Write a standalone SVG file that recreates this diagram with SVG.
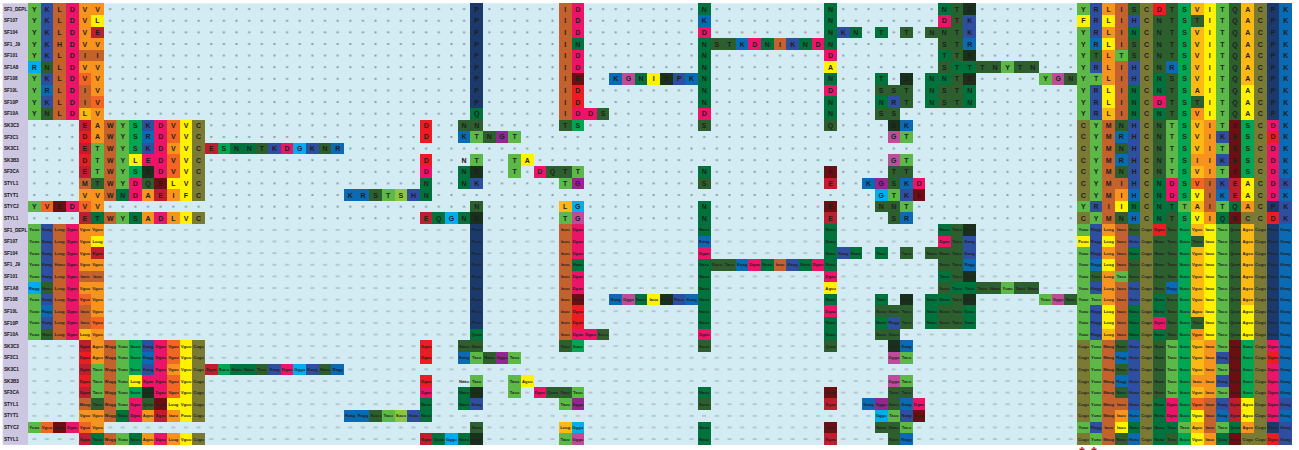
<svg xmlns="http://www.w3.org/2000/svg" width="1299" height="450" viewBox="0 0 1299 450">
<style>
.t{font-family:"Liberation Sans",Arial,sans-serif;font-weight:bold;font-size:7px;fill:#1e1e1e;text-anchor:middle}
.c{font-family:"Liberation Sans",Arial,sans-serif;font-weight:bold;font-size:4.2px;fill:#222;text-anchor:middle}
.lb{font-family:"Liberation Sans",Arial,sans-serif;font-weight:bold;font-size:4.6px;fill:#111}
.cl rect{width:1px;height:1px}
.g1{fill:#5cb947}.g2{fill:#00a651}.g3{fill:#00733c}.g4{fill:#2d5e2e}.g5{fill:#18301c}.g6{fill:#8dc63f}
.b1{fill:#2e4ea0}.b2{fill:#0a6ab4}.b3{fill:#00aeef}.b4{fill:#1b3a6b}
.o1{fill:#f7941d}.o2{fill:#f26522}.o3{fill:#c4622d}.y1{fill:#fff200}.y2{fill:#fdb913}
.r1{fill:#ed1c24}.r2{fill:#be1e2d}.r3{fill:#6d0f12}.pk{fill:#ec1468}.pu{fill:#92278f}.mg{fill:#c04b9a}.ol{fill:#7a7a34}
</style>
<defs>
<pattern id="dots" patternUnits="userSpaceOnUse" x="28" y="3.3" width="12.64" height="11.62"><rect x="5.3" y="4.8" width="2" height="2" fill="#8a9ca4"/></pattern>
<pattern id="dash" patternUnits="userSpaceOnUse" x="28" y="3.3" width="12.64" height="11.62"><rect x="4.3" y="5.3" width="4" height="1.1" fill="#9aaab2"/></pattern>
</defs>
<g id="background">
<rect x="2.7" y="3.3" width="25.3" height="441.6" fill="#ccc6e0"/>
<rect x="28" y="3.3" width="1264" height="441.6" fill="#d3ebf2"/>
<rect x="28" y="3.3" width="1264" height="220.8" fill="url(#dots)"/>
<rect x="28" y="224.1" width="1264" height="220.8" fill="url(#dash)"/>
</g>
<g id="cells" class="cl" transform="translate(28 3.3) scale(12.64 11.62)" shape-rendering="crispEdges">
<g class="g1"><rect x="0" y="0" style="height:5px"/><rect x="0" y="6" style="height:4px"/><rect x="0" y="17"/><rect x="7" y="10" style="height:6px"/><rect x="7" y="18"/><rect x="5" y="12" style="height:3px"/><rect x="35" y="11"/><rect x="38" y="11"/><rect x="35" y="13"/><rect x="38" y="13" style="height:2px"/><rect x="43" y="14"/><rect x="42" y="15"/><rect x="28" y="16"/><rect x="69" y="11"/><rect x="69" y="13"/><rect x="68" y="16"/><rect x="69" y="17"/><rect x="42" y="18"/><rect x="77" y="5"/><rect x="80" y="6"/><rect x="83" y="0"/><rect x="83" y="2" style="height:8px"/><rect x="83" y="17"/><rect x="84" y="6"/><rect x="84" y="10" style="height:7px"/><rect x="84" y="18"/><rect x="86" y="4"/><rect x="90" y="10" style="height:5px"/><rect x="91" y="17"/><rect x="94" y="0" style="height:11px"/><rect x="94" y="12"/><rect x="94" y="14"/><rect x="94" y="17"/></g>
<g class="g2"><rect x="8" y="10" style="height:3px"/><rect x="8" y="14"/><rect x="43" y="10"/><rect x="15" y="12"/><rect x="91" y="0" style="height:17px"/><rect x="91" y="18"/><rect x="96" y="10" style="height:5px"/></g>
<g class="g3"><rect x="53" y="0"/><rect x="53" y="3" style="height:6px"/><rect x="53" y="14"/><rect x="53" y="17" style="height:2px"/><rect x="63" y="0" style="height:4px"/><rect x="63" y="6"/><rect x="63" y="8" style="height:2px"/><rect x="43" y="3"/><rect x="65" y="2"/><rect x="67" y="2"/><rect x="58" y="3"/><rect x="61" y="3"/><rect x="48" y="6"/><rect x="72" y="0"/><rect x="72" y="4"/><rect x="73" y="5"/><rect x="74" y="5"/><rect x="67" y="6"/><rect x="71" y="6" style="height:3px"/><rect x="72" y="6"/><rect x="74" y="7" style="height:2px"/><rect x="67" y="8"/><rect x="34" y="14" style="height:2px"/><rect x="31" y="15" style="height:2px"/><rect x="7" y="16"/><rect x="32" y="18"/><rect x="34" y="18"/><rect x="16" y="12"/><rect x="17" y="12"/><rect x="5" y="18"/><rect x="8" y="18"/><rect x="35" y="9"/><rect x="87" y="2"/><rect x="87" y="7" style="height:3px"/><rect x="87" y="17"/><rect x="89" y="6" style="height:2px"/><rect x="89" y="9"/><rect x="89" y="15" style="height:4px"/><rect x="90" y="17"/><rect x="94" y="18"/><rect x="95" y="17"/></g>
<g class="g4"><rect x="1" y="5"/><rect x="1" y="9"/><rect x="45" y="9"/><rect x="54" y="3"/><rect x="55" y="3"/><rect x="73" y="0" style="height:5px"/><rect x="73" y="6" style="height:3px"/><rect x="71" y="2"/><rect x="72" y="2" style="height:2px"/><rect x="69" y="2"/><rect x="72" y="5"/><rect x="75" y="5"/><rect x="76" y="5"/><rect x="78" y="5"/><rect x="79" y="5"/><rect x="82" y="6"/><rect x="67" y="7"/><rect x="68" y="7"/><rect x="69" y="7" style="height:2px"/><rect x="67" y="9"/><rect x="68" y="9"/><rect x="72" y="7" style="height:2px"/><rect x="34" y="10"/><rect x="35" y="10"/><rect x="42" y="10"/><rect x="53" y="10"/><rect x="36" y="11"/><rect x="41" y="14"/><rect x="42" y="14"/><rect x="68" y="14" style="height:2px"/><rect x="69" y="14"/><rect x="5" y="15"/><rect x="9" y="15"/><rect x="53" y="15"/><rect x="27" y="16"/><rect x="35" y="17"/><rect x="67" y="17"/><rect x="68" y="17"/><rect x="68" y="18"/><rect x="18" y="12"/><rect x="23" y="12"/><rect x="63" y="10"/><rect x="84" y="4"/><rect x="86" y="10"/><rect x="86" y="12"/><rect x="86" y="14"/><rect x="86" y="18"/><rect x="87" y="0"/><rect x="87" y="3" style="height:2px"/><rect x="89" y="1" style="height:5px"/><rect x="89" y="10" style="height:5px"/><rect x="90" y="0" style="height:5px"/><rect x="90" y="6" style="height:4px"/><rect x="90" y="18"/><rect x="92" y="1"/><rect x="92" y="8"/><rect x="95" y="0" style="height:10px"/></g>
<g class="g5"><rect x="74" y="0"/><rect x="74" y="4"/><rect x="50" y="6"/><rect x="69" y="6"/><rect x="74" y="6"/><rect x="68" y="10"/><rect x="9" y="14"/><rect x="35" y="14"/><rect x="35" y="18"/></g>
<g class="g6"><rect x="29" y="16"/></g>
<g class="b1"><rect x="1" y="0" style="height:5px"/><rect x="1" y="6"/><rect x="1" y="8"/><rect x="2" y="3"/><rect x="60" y="3"/><rect x="51" y="6"/><rect x="64" y="2"/><rect x="74" y="1" style="height:2px"/><rect x="68" y="8"/><rect x="9" y="10"/><rect x="9" y="12"/><rect x="35" y="15"/><rect x="19" y="12"/><rect x="22" y="12"/><rect x="30" y="16"/><rect x="69" y="16"/><rect x="84" y="0" style="height:3px"/><rect x="84" y="5"/><rect x="84" y="7" style="height:3px"/><rect x="84" y="17"/><rect x="87" y="1"/><rect x="87" y="5" style="height:2px"/><rect x="87" y="10" style="height:6px"/><rect x="94" y="11"/><rect x="94" y="13"/><rect x="94" y="15"/><rect x="99" y="15"/><rect x="99" y="17" style="height:2px"/></g>
<g class="b2"><rect x="1" y="7"/><rect x="53" y="1"/><rect x="56" y="3"/><rect x="74" y="3"/><rect x="46" y="6"/><rect x="52" y="6"/><rect x="69" y="10"/><rect x="9" y="11"/><rect x="34" y="11"/><rect x="24" y="12"/><rect x="66" y="15"/><rect x="69" y="15"/><rect x="25" y="16"/><rect x="26" y="16"/><rect x="69" y="18"/><rect x="84" y="3"/><rect x="86" y="11"/><rect x="86" y="13"/><rect x="87" y="16"/><rect x="87" y="18"/><rect x="90" y="5"/><rect x="94" y="16"/><rect x="99" y="0" style="height:15px"/><rect x="99" y="16"/></g>
<g class="b3"><rect x="0" y="5"/><rect x="21" y="12"/><rect x="43" y="17"/><rect x="33" y="18"/><rect x="67" y="16"/></g>
<g class="b4"><rect x="35" y="0" style="height:9px"/><rect x="98" y="0" style="height:10px"/><rect x="98" y="17"/></g>
<g class="o1"><rect x="4" y="0" style="height:4px"/><rect x="4" y="5"/><rect x="5" y="0"/><rect x="5" y="3"/><rect x="5" y="5" style="height:3px"/><rect x="5" y="9" style="height:3px"/><rect x="5" y="16" style="height:2px"/><rect x="11" y="12"/><rect x="9" y="16"/><rect x="11" y="16"/><rect x="4" y="16"/><rect x="9" y="18"/><rect x="11" y="18"/><rect x="85" y="0"/><rect x="85" y="2"/><rect x="85" y="4" style="height:3px"/><rect x="86" y="16"/><rect x="92" y="9"/><rect x="92" y="13"/><rect x="93" y="10" style="height:5px"/><rect x="93" y="18"/><rect x="96" y="17"/></g>
<g class="o2"><rect x="4" y="6"/><rect x="5" y="8"/><rect x="11" y="10" style="height:2px"/><rect x="11" y="13" style="height:2px"/><rect x="1" y="17"/><rect x="4" y="17"/><rect x="92" y="15"/></g>
<g class="o3"><rect x="2" y="0" style="height:10px"/><rect x="4" y="4"/><rect x="5" y="4"/><rect x="4" y="7" style="height:2px"/><rect x="42" y="0" style="height:10px"/><rect x="59" y="3"/><rect x="6" y="10" style="height:7px"/><rect x="6" y="18"/><rect x="4" y="15"/><rect x="85" y="10" style="height:9px"/><rect x="86" y="0" style="height:4px"/><rect x="86" y="5" style="height:5px"/><rect x="86" y="15"/><rect x="93" y="15" style="height:3px"/></g>
<g class="y1"><rect x="5" y="1"/><rect x="49" y="6"/><rect x="63" y="5"/><rect x="8" y="13"/><rect x="39" y="13"/><rect x="11" y="15"/><rect x="12" y="10" style="height:7px"/><rect x="12" y="18"/><rect x="83" y="1"/><rect x="85" y="1"/><rect x="85" y="3"/><rect x="85" y="7" style="height:2px"/><rect x="86" y="17"/><rect x="92" y="16"/><rect x="92" y="18"/><rect x="93" y="0" style="height:10px"/><rect x="96" y="7" style="height:3px"/><rect x="96" y="15" style="height:2px"/></g>
<g class="y2"><rect x="4" y="9"/><rect x="42" y="17"/><rect x="85" y="9"/><rect x="92" y="0"/><rect x="92" y="2" style="height:6px"/><rect x="92" y="10" style="height:3px"/><rect x="92" y="14"/><rect x="92" y="17"/><rect x="96" y="0" style="height:7px"/></g>
<g class="r1"><rect x="43" y="7" style="height:2px"/><rect x="4" y="11"/><rect x="4" y="13"/><rect x="31" y="10" style="height:2px"/><rect x="31" y="13"/><rect x="89" y="0"/><rect x="98" y="11"/><rect x="98" y="18"/></g>
<g class="r2"><rect x="5" y="2"/><rect x="4" y="10"/><rect x="4" y="12"/><rect x="4" y="14"/><rect x="4" y="18"/><rect x="14" y="12"/><rect x="10" y="16"/><rect x="63" y="15"/><rect x="31" y="18"/><rect x="63" y="18"/><rect x="95" y="15" style="height:2px"/></g>
<g class="r3"><rect x="43" y="6"/><rect x="2" y="17"/><rect x="10" y="15"/><rect x="63" y="14"/><rect x="63" y="17"/><rect x="70" y="16"/><rect x="95" y="10" style="height:5px"/><rect x="95" y="18"/></g>
<g class="pk"><rect x="3" y="0" style="height:10px"/><rect x="3" y="17"/><rect x="43" y="0" style="height:3px"/><rect x="43" y="4" style="height:2px"/><rect x="43" y="9"/><rect x="44" y="9"/><rect x="53" y="2"/><rect x="53" y="9"/><rect x="57" y="3"/><rect x="62" y="3"/><rect x="63" y="4"/><rect x="63" y="7"/><rect x="72" y="1"/><rect x="10" y="10" style="height:5px"/><rect x="10" y="18"/><rect x="9" y="13"/><rect x="8" y="15" style="height:2px"/><rect x="31" y="14"/><rect x="40" y="14"/><rect x="20" y="12"/><rect x="70" y="15"/><rect x="89" y="8"/><rect x="90" y="15" style="height:2px"/><rect x="98" y="10"/><rect x="98" y="12" style="height:5px"/></g>
<g class="pu"><rect x="37" y="11"/><rect x="43" y="15"/><rect x="67" y="15"/></g>
<g class="mg"><rect x="47" y="6"/><rect x="81" y="6"/><rect x="68" y="11"/><rect x="68" y="13"/><rect x="43" y="18"/></g>
<g class="ol"><rect x="13" y="10" style="height:7px"/><rect x="13" y="18"/><rect x="83" y="10" style="height:7px"/><rect x="83" y="18"/><rect x="88" y="0" style="height:19px"/><rect x="96" y="18"/><rect x="97" y="0" style="height:19px"/></g>
</g>
<use id="cells-lower" href="#cells" y="220.78"/>
<g id="labels" class="lb">
<text x="4" y="10.8">SF1_DEPL</text><text x="4" y="22.4">SF107</text><text x="4" y="34">SF104</text><text x="4" y="45.6">SF1_J9</text><text x="4" y="57.2">SF101</text><text x="4" y="68.8">SF1A8</text><text x="4" y="80.4">SF108</text><text x="4" y="92">SF10L</text><text x="4" y="103.7">SF10P</text><text x="4" y="115.3">SF10A</text><text x="4" y="126.9">SK3C3</text><text x="4" y="138.5">SF3C1</text><text x="4" y="150.1">SK3C1</text><text x="4" y="161.8">SK3B3</text><text x="4" y="173.4">SF3CA</text><text x="4" y="185">STYL1</text><text x="4" y="196.6">STYT1</text><text x="4" y="208.2">STYC2</text><text x="4" y="219.8">STYL1</text>
<text x="4" y="231.6">SF1_DEPL</text><text x="4" y="243.2">SF107</text><text x="4" y="254.8">SF104</text><text x="4" y="266.4">SF1_J9</text><text x="4" y="278">SF101</text><text x="4" y="289.6">SF1A8</text><text x="4" y="301.2">SF108</text><text x="4" y="312.8">SF10L</text><text x="4" y="324.5">SF10P</text><text x="4" y="336.1">SF10A</text><text x="4" y="347.7">SK3C3</text><text x="4" y="359.3">SF3C1</text><text x="4" y="370.9">SK3C1</text><text x="4" y="382.6">SK3B3</text><text x="4" y="394.2">SF3CA</text><text x="4" y="405.8">STYL1</text><text x="4" y="417.4">STYT1</text><text x="4" y="429">STYC2</text><text x="4" y="440.6">STYL1</text>
</g>
<g id="letters" class="t">
<text x="34.3 47 59.6 72.2 84.9 97.5 476.7 565.2 577.8 704.2 830.6 944.4 957 969.7 1083.4 1096.1 1108.7 1121.4 1134 1146.6 1159.3 1171.9 1184.6 1197.2 1209.8 1222.5 1235.1 1247.8 1260.4 1273 1285.7" y="11.6">YKLDVVPIDNNNTSYRLISCDTSVITQACPK</text>
<text x="34.3 47 59.6 72.2 84.9 97.5 476.7 565.2 577.8 704.2 830.6 944.4 957 969.7 1083.4 1096.1 1108.7 1121.4 1134 1146.6 1159.3 1171.9 1184.6 1197.2 1209.8 1222.5 1235.1 1247.8 1260.4 1273 1285.7" y="23.2">YKLDVLPIDKNDTKFRLIHCNTSTITQACPK</text>
<text x="34.3 47 59.6 72.2 84.9 97.5 476.7 565.2 577.8 704.2 830.6 843.3 855.9 881.2 906.5 931.8 944.4 957 969.7 1083.4 1096.1 1108.7 1121.4 1134 1146.6 1159.3 1171.9 1184.6 1197.2 1209.8 1222.5 1235.1 1247.8 1260.4 1273 1285.7" y="34.9">YKLDVEPIDDNKNTTNNTKYRLINCNTSVITQACPK</text>
<text x="34.3 47 59.6 72.2 84.9 97.5 476.7 565.2 577.8 704.2 716.9 729.5 742.2 754.8 767.4 780.1 792.7 805.4 818 830.6 944.4 957 969.7 1083.4 1096.1 1108.7 1121.4 1134 1146.6 1159.3 1171.9 1184.6 1197.2 1209.8 1222.5 1235.1 1247.8 1260.4 1273 1285.7" y="46.5">YKHDVVPINNSTKDNIKNDNSTRYRLISCNTSVITQACPK</text>
<text x="34.3 47 59.6 72.2 84.9 97.5 476.7 565.2 577.8 704.2 830.6 944.4 957 969.7 1083.4 1096.1 1108.7 1121.4 1134 1146.6 1159.3 1171.9 1184.6 1197.2 1209.8 1222.5 1235.1 1247.8 1260.4 1273 1285.7" y="58.1">YKLDIIPIDNDTTSYTLTSCNTSVITQACPK</text>
<text x="34.3 47 59.6 72.2 84.9 97.5 476.7 565.2 577.8 704.2 830.6 944.4 957 969.7 982.3 995 1007.6 1020.2 1032.9 1083.4 1096.1 1108.7 1121.4 1134 1146.6 1159.3 1171.9 1184.6 1197.2 1209.8 1222.5 1235.1 1247.8 1260.4 1273 1285.7" y="69.7">RNLDVVPIDNASTTTNYTNYRLIHCNRSVITQACPK</text>
<text x="34.3 47 59.6 72.2 84.9 97.5 476.7 565.2 577.8 615.8 628.4 641 653.7 666.3 679 691.6 704.2 830.6 881.2 906.5 931.8 944.4 957 969.7 1045.5 1058.2 1070.8 1083.4 1096.1 1108.7 1121.4 1134 1146.6 1159.3 1171.9 1184.6 1197.2 1209.8 1222.5 1235.1 1247.8 1260.4 1273 1285.7" y="81.3">YKLDVVPIEKGNISPKNNTSNNTSYGNYTLIHCNSSVITQACPK</text>
<text x="34.3 47 59.6 72.2 84.9 97.5 476.7 565.2 577.8 704.2 830.6 881.2 893.8 906.5 931.8 944.4 957 969.7 1083.4 1096.1 1108.7 1121.4 1134 1146.6 1159.3 1171.9 1184.6 1197.2 1209.8 1222.5 1235.1 1247.8 1260.4 1273 1285.7" y="93">YRLDIVPIDNDSSTNSTNYRLINCNTSAITQACPK</text>
<text x="34.3 47 59.6 72.2 84.9 97.5 476.7 565.2 577.8 704.2 830.6 881.2 893.8 906.5 931.8 944.4 957 969.7 1083.4 1096.1 1108.7 1121.4 1134 1146.6 1159.3 1171.9 1184.6 1197.2 1209.8 1222.5 1235.1 1247.8 1260.4 1273 1285.7" y="104.6">YKLDIVPIDNNNRTNSTNYRLINCDTSTITQACPK</text>
<text x="34.3 47 59.6 72.2 84.9 97.5 476.7 565.2 577.8 590.5 603.1 704.2 830.6 881.2 893.8 1083.4 1096.1 1108.7 1121.4 1134 1146.6 1159.3 1171.9 1184.6 1197.2 1209.8 1222.5 1235.1 1247.8 1260.4 1273 1285.7" y="116.2">YNLDLVQIDDSDNSSYRLINCNTSVITQACPK</text>
<text x="84.9 97.5 110.2 122.8 135.4 148.1 160.7 173.4 186 198.6 426.2 464.1 476.7 565.2 577.8 704.2 830.6 893.8 906.5 1083.4 1096.1 1108.7 1121.4 1134 1146.6 1159.3 1171.9 1184.6 1197.2 1209.8 1222.5 1235.1 1247.8 1260.4 1273 1285.7" y="127.8">EAWYSKDVVCDNNTSSQSKCYMNHCNTSVITESCDK</text>
<text x="84.9 97.5 110.2 122.8 135.4 148.1 160.7 173.4 186 198.6 426.2 464.1 476.7 489.4 502 514.6 893.8 906.5 1083.4 1096.1 1108.7 1121.4 1134 1146.6 1159.3 1171.9 1184.6 1197.2 1209.8 1222.5 1235.1 1247.8 1260.4 1273 1285.7" y="139.4">DAWYSRDVVCDKTNGTGTCYMRHCNTSVIKESCDK</text>
<text x="84.9 97.5 110.2 122.8 135.4 148.1 160.7 173.4 186 198.6 211.3 223.9 236.6 249.2 261.8 274.5 287.1 299.8 312.4 325 337.7 1083.4 1096.1 1108.7 1121.4 1134 1146.6 1159.3 1171.9 1184.6 1197.2 1209.8 1222.5 1235.1 1247.8 1260.4 1273 1285.7" y="151.1">ETWYSKDVVCESNNTKDGKNRCYMNHCNTSVITESCDK</text>
<text x="84.9 97.5 110.2 122.8 135.4 148.1 160.7 173.4 186 198.6 426.2 464.1 476.7 514.6 527.3 893.8 906.5 1083.4 1096.1 1108.7 1121.4 1134 1146.6 1159.3 1171.9 1184.6 1197.2 1209.8 1222.5 1235.1 1247.8 1260.4 1273 1285.7" y="162.7">DTWYLEDVVCDNTTAGTCYMRHCNTSIIKESCDK</text>
<text x="84.9 97.5 110.2 122.8 135.4 148.1 160.7 173.4 186 198.6 426.2 464.1 476.7 514.6 539.9 552.6 565.2 577.8 704.2 830.6 893.8 906.5 1083.4 1096.1 1108.7 1121.4 1134 1146.6 1159.3 1171.9 1184.6 1197.2 1209.8 1222.5 1235.1 1247.8 1260.4 1273 1285.7" y="174.3">ETWYSSDVVCDNSTDQTTNETTCYMNHCNTSVITESCDK</text>
<text x="84.9 97.5 110.2 122.8 135.4 148.1 160.7 173.4 186 198.6 426.2 464.1 476.7 565.2 577.8 704.2 830.6 868.6 881.2 893.8 906.5 919.1 1083.4 1096.1 1108.7 1121.4 1134 1146.6 1159.3 1171.9 1184.6 1197.2 1209.8 1222.5 1235.1 1247.8 1260.4 1273 1285.7" y="185.9">MTWYDQELVCNNKTGSEKGSKDCYMIHCNDSVIKEACDK</text>
<text x="84.9 97.5 110.2 122.8 135.4 148.1 160.7 173.4 186 198.6 350.3 363 375.6 388.2 400.9 413.5 426.2 881.2 893.8 906.5 919.1 1083.4 1096.1 1108.7 1121.4 1134 1146.6 1159.3 1171.9 1184.6 1197.2 1209.8 1222.5 1235.1 1247.8 1260.4 1273 1285.7" y="197.5">VVWNDAEIFCKRSTSHNGTKECYMIHCNDSVIKEACDK</text>
<text x="34.3 47 59.6 72.2 84.9 97.5 476.7 565.2 577.8 704.2 830.6 881.2 893.8 906.5 1083.4 1096.1 1108.7 1121.4 1134 1146.6 1159.3 1171.9 1184.6 1197.2 1209.8 1222.5 1235.1 1247.8 1260.4 1273 1285.7" y="209.2">YVEDVVNLGNENNTYRIINCNTTAITQACPK</text>
<text x="84.9 97.5 110.2 122.8 135.4 148.1 160.7 173.4 186 198.6 426.2 438.8 451.4 464.1 476.7 565.2 577.8 704.2 830.6 893.8 906.5 1083.4 1096.1 1108.7 1121.4 1134 1146.6 1159.3 1171.9 1184.6 1197.2 1209.8 1222.5 1235.1 1247.8 1260.4 1273 1285.7" y="220.8">ETWYSADLVCEQGNSTGNESRCYMNHCNTSVIQECCDK</text>
</g>
<g id="codons" class="c">
<text y="231.4"><tspan x="34.3">Yuau</tspan><tspan x="47">Kaag</tspan><tspan x="59.6">Lcug</tspan><tspan x="72.2">Dgau</tspan><tspan x="84.9">Vguu</tspan><tspan x="97.5">Vguu</tspan><tspan x="476.7">Pccu</tspan><tspan x="565.2">Iauu</tspan><tspan x="577.8">Dgau</tspan><tspan x="704.2">Naau</tspan><tspan x="830.6">Naau</tspan><tspan x="944.4">Naau</tspan><tspan x="957">Tacu</tspan><tspan x="969.7">Sucu</tspan><tspan x="1083.4">Yuau</tspan><tspan x="1096.1">Ragg</tspan><tspan x="1108.7">Lcug</tspan><tspan x="1121.4">Iauu</tspan><tspan x="1134">Sucu</tspan><tspan x="1146.6">Cugu</tspan><tspan x="1159.3">Dgau</tspan><tspan x="1171.9">Tacu</tspan><tspan x="1184.6">Sucu</tspan><tspan x="1197.2">Vguu</tspan><tspan x="1209.8">Iauu</tspan><tspan x="1222.5">Tacu</tspan><tspan x="1235.1">Qcaa</tspan><tspan x="1247.8">Agcu</tspan><tspan x="1260.4">Cugu</tspan><tspan x="1273">Pccu</tspan><tspan x="1285.7">Kaag</tspan></text>
<text y="243"><tspan x="34.3">Yuau</tspan><tspan x="47">Kaag</tspan><tspan x="59.6">Lcug</tspan><tspan x="72.2">Dgau</tspan><tspan x="84.9">Vguu</tspan><tspan x="97.5">Lcug</tspan><tspan x="476.7">Pccu</tspan><tspan x="565.2">Iauu</tspan><tspan x="577.8">Dgau</tspan><tspan x="704.2">Kaag</tspan><tspan x="830.6">Naau</tspan><tspan x="944.4">Dgau</tspan><tspan x="957">Tacu</tspan><tspan x="969.7">Kaag</tspan><tspan x="1083.4">Fuuu</tspan><tspan x="1096.1">Ragg</tspan><tspan x="1108.7">Lcug</tspan><tspan x="1121.4">Iauu</tspan><tspan x="1134">Hcau</tspan><tspan x="1146.6">Cugu</tspan><tspan x="1159.3">Naau</tspan><tspan x="1171.9">Tacu</tspan><tspan x="1184.6">Sucu</tspan><tspan x="1197.2">Tacu</tspan><tspan x="1209.8">Iauu</tspan><tspan x="1222.5">Tacu</tspan><tspan x="1235.1">Qcaa</tspan><tspan x="1247.8">Agcu</tspan><tspan x="1260.4">Cugu</tspan><tspan x="1273">Pccu</tspan><tspan x="1285.7">Kaag</tspan></text>
<text y="254.6"><tspan x="34.3">Yuau</tspan><tspan x="47">Kaag</tspan><tspan x="59.6">Lcug</tspan><tspan x="72.2">Dgau</tspan><tspan x="84.9">Vguu</tspan><tspan x="97.5">Egaa</tspan><tspan x="476.7">Pccu</tspan><tspan x="565.2">Iauu</tspan><tspan x="577.8">Dgau</tspan><tspan x="704.2">Dgau</tspan><tspan x="830.6">Naau</tspan><tspan x="843.3">Kaag</tspan><tspan x="855.9">Naau</tspan><tspan x="881.2">Tacu</tspan><tspan x="906.5">Tacu</tspan><tspan x="931.8">Naau</tspan><tspan x="944.4">Naau</tspan><tspan x="957">Tacu</tspan><tspan x="969.7">Kaag</tspan><tspan x="1083.4">Yuau</tspan><tspan x="1096.1">Ragg</tspan><tspan x="1108.7">Lcug</tspan><tspan x="1121.4">Iauu</tspan><tspan x="1134">Naau</tspan><tspan x="1146.6">Cugu</tspan><tspan x="1159.3">Naau</tspan><tspan x="1171.9">Tacu</tspan><tspan x="1184.6">Sucu</tspan><tspan x="1197.2">Vguu</tspan><tspan x="1209.8">Iauu</tspan><tspan x="1222.5">Tacu</tspan><tspan x="1235.1">Qcaa</tspan><tspan x="1247.8">Agcu</tspan><tspan x="1260.4">Cugu</tspan><tspan x="1273">Pccu</tspan><tspan x="1285.7">Kaag</tspan></text>
<text y="266.3"><tspan x="34.3">Yuau</tspan><tspan x="47">Kaag</tspan><tspan x="59.6">Hcau</tspan><tspan x="72.2">Dgau</tspan><tspan x="84.9">Vguu</tspan><tspan x="97.5">Vguu</tspan><tspan x="476.7">Pccu</tspan><tspan x="565.2">Iauu</tspan><tspan x="577.8">Naau</tspan><tspan x="704.2">Naau</tspan><tspan x="716.9">Sucu</tspan><tspan x="729.5">Tacu</tspan><tspan x="742.2">Kaag</tspan><tspan x="754.8">Dgau</tspan><tspan x="767.4">Naau</tspan><tspan x="780.1">Iauu</tspan><tspan x="792.7">Kaag</tspan><tspan x="805.4">Naau</tspan><tspan x="818">Dgau</tspan><tspan x="830.6">Naau</tspan><tspan x="944.4">Sucu</tspan><tspan x="957">Tacu</tspan><tspan x="969.7">Ragg</tspan><tspan x="1083.4">Yuau</tspan><tspan x="1096.1">Ragg</tspan><tspan x="1108.7">Lcug</tspan><tspan x="1121.4">Iauu</tspan><tspan x="1134">Sucu</tspan><tspan x="1146.6">Cugu</tspan><tspan x="1159.3">Naau</tspan><tspan x="1171.9">Tacu</tspan><tspan x="1184.6">Sucu</tspan><tspan x="1197.2">Vguu</tspan><tspan x="1209.8">Iauu</tspan><tspan x="1222.5">Tacu</tspan><tspan x="1235.1">Qcaa</tspan><tspan x="1247.8">Agcu</tspan><tspan x="1260.4">Cugu</tspan><tspan x="1273">Pccu</tspan><tspan x="1285.7">Kaag</tspan></text>
<text y="277.9"><tspan x="34.3">Yuau</tspan><tspan x="47">Kaag</tspan><tspan x="59.6">Lcug</tspan><tspan x="72.2">Dgau</tspan><tspan x="84.9">Iauu</tspan><tspan x="97.5">Iauu</tspan><tspan x="476.7">Pccu</tspan><tspan x="565.2">Iauu</tspan><tspan x="577.8">Dgau</tspan><tspan x="704.2">Naau</tspan><tspan x="830.6">Dgau</tspan><tspan x="944.4">Tacu</tspan><tspan x="957">Tacu</tspan><tspan x="969.7">Sucu</tspan><tspan x="1083.4">Yuau</tspan><tspan x="1096.1">Tacu</tspan><tspan x="1108.7">Lcug</tspan><tspan x="1121.4">Tacu</tspan><tspan x="1134">Sucu</tspan><tspan x="1146.6">Cugu</tspan><tspan x="1159.3">Naau</tspan><tspan x="1171.9">Tacu</tspan><tspan x="1184.6">Sucu</tspan><tspan x="1197.2">Vguu</tspan><tspan x="1209.8">Iauu</tspan><tspan x="1222.5">Tacu</tspan><tspan x="1235.1">Qcaa</tspan><tspan x="1247.8">Agcu</tspan><tspan x="1260.4">Cugu</tspan><tspan x="1273">Pccu</tspan><tspan x="1285.7">Kaag</tspan></text>
<text y="289.5"><tspan x="34.3">Ragg</tspan><tspan x="47">Naau</tspan><tspan x="59.6">Lcug</tspan><tspan x="72.2">Dgau</tspan><tspan x="84.9">Vguu</tspan><tspan x="97.5">Vguu</tspan><tspan x="476.7">Pccu</tspan><tspan x="565.2">Iauu</tspan><tspan x="577.8">Dgau</tspan><tspan x="704.2">Naau</tspan><tspan x="830.6">Agcu</tspan><tspan x="944.4">Sucu</tspan><tspan x="957">Tacu</tspan><tspan x="969.7">Tacu</tspan><tspan x="982.3">Tacu</tspan><tspan x="995">Naau</tspan><tspan x="1007.6">Yuau</tspan><tspan x="1020.2">Tacu</tspan><tspan x="1032.9">Naau</tspan><tspan x="1083.4">Yuau</tspan><tspan x="1096.1">Ragg</tspan><tspan x="1108.7">Lcug</tspan><tspan x="1121.4">Iauu</tspan><tspan x="1134">Hcau</tspan><tspan x="1146.6">Cugu</tspan><tspan x="1159.3">Naau</tspan><tspan x="1171.9">Ragg</tspan><tspan x="1184.6">Sucu</tspan><tspan x="1197.2">Vguu</tspan><tspan x="1209.8">Iauu</tspan><tspan x="1222.5">Tacu</tspan><tspan x="1235.1">Qcaa</tspan><tspan x="1247.8">Agcu</tspan><tspan x="1260.4">Cugu</tspan><tspan x="1273">Pccu</tspan><tspan x="1285.7">Kaag</tspan></text>
<text y="301.1"><tspan x="34.3">Yuau</tspan><tspan x="47">Kaag</tspan><tspan x="59.6">Lcug</tspan><tspan x="72.2">Dgau</tspan><tspan x="84.9">Vguu</tspan><tspan x="97.5">Vguu</tspan><tspan x="476.7">Pccu</tspan><tspan x="565.2">Iauu</tspan><tspan x="577.8">Egaa</tspan><tspan x="615.8">Kaag</tspan><tspan x="628.4">Gggu</tspan><tspan x="641">Naau</tspan><tspan x="653.7">Iauu</tspan><tspan x="666.3">Sucu</tspan><tspan x="679">Pccu</tspan><tspan x="691.6">Kaag</tspan><tspan x="704.2">Naau</tspan><tspan x="830.6">Naau</tspan><tspan x="881.2">Tacu</tspan><tspan x="906.5">Sucu</tspan><tspan x="931.8">Naau</tspan><tspan x="944.4">Naau</tspan><tspan x="957">Tacu</tspan><tspan x="969.7">Sucu</tspan><tspan x="1045.5">Yuau</tspan><tspan x="1058.2">Gggu</tspan><tspan x="1070.8">Naau</tspan><tspan x="1083.4">Yuau</tspan><tspan x="1096.1">Tacu</tspan><tspan x="1108.7">Lcug</tspan><tspan x="1121.4">Iauu</tspan><tspan x="1134">Hcau</tspan><tspan x="1146.6">Cugu</tspan><tspan x="1159.3">Naau</tspan><tspan x="1171.9">Sucu</tspan><tspan x="1184.6">Sucu</tspan><tspan x="1197.2">Vguu</tspan><tspan x="1209.8">Iauu</tspan><tspan x="1222.5">Tacu</tspan><tspan x="1235.1">Qcaa</tspan><tspan x="1247.8">Agcu</tspan><tspan x="1260.4">Cugu</tspan><tspan x="1273">Pccu</tspan><tspan x="1285.7">Kaag</tspan></text>
<text y="312.7"><tspan x="34.3">Yuau</tspan><tspan x="47">Ragg</tspan><tspan x="59.6">Lcug</tspan><tspan x="72.2">Dgau</tspan><tspan x="84.9">Iauu</tspan><tspan x="97.5">Vguu</tspan><tspan x="476.7">Pccu</tspan><tspan x="565.2">Iauu</tspan><tspan x="577.8">Dgau</tspan><tspan x="704.2">Naau</tspan><tspan x="830.6">Dgau</tspan><tspan x="881.2">Sucu</tspan><tspan x="893.8">Sucu</tspan><tspan x="906.5">Tacu</tspan><tspan x="931.8">Naau</tspan><tspan x="944.4">Sucu</tspan><tspan x="957">Tacu</tspan><tspan x="969.7">Naau</tspan><tspan x="1083.4">Yuau</tspan><tspan x="1096.1">Ragg</tspan><tspan x="1108.7">Lcug</tspan><tspan x="1121.4">Iauu</tspan><tspan x="1134">Naau</tspan><tspan x="1146.6">Cugu</tspan><tspan x="1159.3">Naau</tspan><tspan x="1171.9">Tacu</tspan><tspan x="1184.6">Sucu</tspan><tspan x="1197.2">Agcu</tspan><tspan x="1209.8">Iauu</tspan><tspan x="1222.5">Tacu</tspan><tspan x="1235.1">Qcaa</tspan><tspan x="1247.8">Agcu</tspan><tspan x="1260.4">Cugu</tspan><tspan x="1273">Pccu</tspan><tspan x="1285.7">Kaag</tspan></text>
<text y="324.4"><tspan x="34.3">Yuau</tspan><tspan x="47">Kaag</tspan><tspan x="59.6">Lcug</tspan><tspan x="72.2">Dgau</tspan><tspan x="84.9">Iauu</tspan><tspan x="97.5">Vguu</tspan><tspan x="476.7">Pccu</tspan><tspan x="565.2">Iauu</tspan><tspan x="577.8">Dgau</tspan><tspan x="704.2">Naau</tspan><tspan x="830.6">Naau</tspan><tspan x="881.2">Naau</tspan><tspan x="893.8">Ragg</tspan><tspan x="906.5">Tacu</tspan><tspan x="931.8">Naau</tspan><tspan x="944.4">Sucu</tspan><tspan x="957">Tacu</tspan><tspan x="969.7">Naau</tspan><tspan x="1083.4">Yuau</tspan><tspan x="1096.1">Ragg</tspan><tspan x="1108.7">Lcug</tspan><tspan x="1121.4">Iauu</tspan><tspan x="1134">Naau</tspan><tspan x="1146.6">Cugu</tspan><tspan x="1159.3">Dgau</tspan><tspan x="1171.9">Tacu</tspan><tspan x="1184.6">Sucu</tspan><tspan x="1197.2">Tacu</tspan><tspan x="1209.8">Iauu</tspan><tspan x="1222.5">Tacu</tspan><tspan x="1235.1">Qcaa</tspan><tspan x="1247.8">Agcu</tspan><tspan x="1260.4">Cugu</tspan><tspan x="1273">Pccu</tspan><tspan x="1285.7">Kaag</tspan></text>
<text y="336"><tspan x="34.3">Yuau</tspan><tspan x="47">Naau</tspan><tspan x="59.6">Lcug</tspan><tspan x="72.2">Dgau</tspan><tspan x="84.9">Lcug</tspan><tspan x="97.5">Vguu</tspan><tspan x="476.7">Qcaa</tspan><tspan x="565.2">Iauu</tspan><tspan x="577.8">Dgau</tspan><tspan x="590.5">Dgau</tspan><tspan x="603.1">Sucu</tspan><tspan x="704.2">Dgau</tspan><tspan x="830.6">Naau</tspan><tspan x="881.2">Sucu</tspan><tspan x="893.8">Sucu</tspan><tspan x="1083.4">Yuau</tspan><tspan x="1096.1">Ragg</tspan><tspan x="1108.7">Lcug</tspan><tspan x="1121.4">Iauu</tspan><tspan x="1134">Naau</tspan><tspan x="1146.6">Cugu</tspan><tspan x="1159.3">Naau</tspan><tspan x="1171.9">Tacu</tspan><tspan x="1184.6">Sucu</tspan><tspan x="1197.2">Vguu</tspan><tspan x="1209.8">Iauu</tspan><tspan x="1222.5">Tacu</tspan><tspan x="1235.1">Qcaa</tspan><tspan x="1247.8">Agcu</tspan><tspan x="1260.4">Cugu</tspan><tspan x="1273">Pccu</tspan><tspan x="1285.7">Kaag</tspan></text>
<text y="347.6"><tspan x="84.9">Egaa</tspan><tspan x="97.5">Agcu</tspan><tspan x="110.2">Wugg</tspan><tspan x="122.8">Yuau</tspan><tspan x="135.4">Sucu</tspan><tspan x="148.1">Kaag</tspan><tspan x="160.7">Dgau</tspan><tspan x="173.4">Vguu</tspan><tspan x="186">Vguu</tspan><tspan x="198.6">Cugu</tspan><tspan x="426.2">Dgau</tspan><tspan x="464.1">Naau</tspan><tspan x="476.7">Naau</tspan><tspan x="565.2">Tacu</tspan><tspan x="577.8">Sucu</tspan><tspan x="704.2">Sucu</tspan><tspan x="830.6">Qcaa</tspan><tspan x="893.8">Sucu</tspan><tspan x="906.5">Kaag</tspan><tspan x="1083.4">Cugu</tspan><tspan x="1096.1">Yuau</tspan><tspan x="1108.7">Maug</tspan><tspan x="1121.4">Naau</tspan><tspan x="1134">Hcau</tspan><tspan x="1146.6">Cugu</tspan><tspan x="1159.3">Naau</tspan><tspan x="1171.9">Tacu</tspan><tspan x="1184.6">Sucu</tspan><tspan x="1197.2">Vguu</tspan><tspan x="1209.8">Iauu</tspan><tspan x="1222.5">Tacu</tspan><tspan x="1235.1">Egaa</tspan><tspan x="1247.8">Sucu</tspan><tspan x="1260.4">Cugu</tspan><tspan x="1273">Dgau</tspan><tspan x="1285.7">Kaag</tspan></text>
<text y="359.2"><tspan x="84.9">Dgau</tspan><tspan x="97.5">Agcu</tspan><tspan x="110.2">Wugg</tspan><tspan x="122.8">Yuau</tspan><tspan x="135.4">Sucu</tspan><tspan x="148.1">Ragg</tspan><tspan x="160.7">Dgau</tspan><tspan x="173.4">Vguu</tspan><tspan x="186">Vguu</tspan><tspan x="198.6">Cugu</tspan><tspan x="426.2">Dgau</tspan><tspan x="464.1">Kaag</tspan><tspan x="476.7">Tacu</tspan><tspan x="489.4">Naau</tspan><tspan x="502">Gggu</tspan><tspan x="514.6">Tacu</tspan><tspan x="893.8">Gggu</tspan><tspan x="906.5">Tacu</tspan><tspan x="1083.4">Cugu</tspan><tspan x="1096.1">Yuau</tspan><tspan x="1108.7">Maug</tspan><tspan x="1121.4">Ragg</tspan><tspan x="1134">Hcau</tspan><tspan x="1146.6">Cugu</tspan><tspan x="1159.3">Naau</tspan><tspan x="1171.9">Tacu</tspan><tspan x="1184.6">Sucu</tspan><tspan x="1197.2">Vguu</tspan><tspan x="1209.8">Iauu</tspan><tspan x="1222.5">Kaag</tspan><tspan x="1235.1">Egaa</tspan><tspan x="1247.8">Sucu</tspan><tspan x="1260.4">Cugu</tspan><tspan x="1273">Dgau</tspan><tspan x="1285.7">Kaag</tspan></text>
<text y="370.8"><tspan x="84.9">Egaa</tspan><tspan x="97.5">Tacu</tspan><tspan x="110.2">Wugg</tspan><tspan x="122.8">Yuau</tspan><tspan x="135.4">Sucu</tspan><tspan x="148.1">Kaag</tspan><tspan x="160.7">Dgau</tspan><tspan x="173.4">Vguu</tspan><tspan x="186">Vguu</tspan><tspan x="198.6">Cugu</tspan><tspan x="211.3">Egaa</tspan><tspan x="223.9">Sucu</tspan><tspan x="236.6">Naau</tspan><tspan x="249.2">Naau</tspan><tspan x="261.8">Tacu</tspan><tspan x="274.5">Kaag</tspan><tspan x="287.1">Dgau</tspan><tspan x="299.8">Gggu</tspan><tspan x="312.4">Kaag</tspan><tspan x="325">Naau</tspan><tspan x="337.7">Ragg</tspan><tspan x="1083.4">Cugu</tspan><tspan x="1096.1">Yuau</tspan><tspan x="1108.7">Maug</tspan><tspan x="1121.4">Naau</tspan><tspan x="1134">Hcau</tspan><tspan x="1146.6">Cugu</tspan><tspan x="1159.3">Naau</tspan><tspan x="1171.9">Tacu</tspan><tspan x="1184.6">Sucu</tspan><tspan x="1197.2">Vguu</tspan><tspan x="1209.8">Iauu</tspan><tspan x="1222.5">Tacu</tspan><tspan x="1235.1">Egaa</tspan><tspan x="1247.8">Sucu</tspan><tspan x="1260.4">Cugu</tspan><tspan x="1273">Dgau</tspan><tspan x="1285.7">Kaag</tspan></text>
<text y="382.5"><tspan x="84.9">Dgau</tspan><tspan x="97.5">Tacu</tspan><tspan x="110.2">Wugg</tspan><tspan x="122.8">Yuau</tspan><tspan x="135.4">Lcug</tspan><tspan x="148.1">Egaa</tspan><tspan x="160.7">Dgau</tspan><tspan x="173.4">Vguu</tspan><tspan x="186">Vguu</tspan><tspan x="198.6">Cugu</tspan><tspan x="426.2">Dgau</tspan><tspan x="464.1">Naau</tspan><tspan x="476.7">Tacu</tspan><tspan x="514.6">Tacu</tspan><tspan x="527.3">Agcu</tspan><tspan x="893.8">Gggu</tspan><tspan x="906.5">Tacu</tspan><tspan x="1083.4">Cugu</tspan><tspan x="1096.1">Yuau</tspan><tspan x="1108.7">Maug</tspan><tspan x="1121.4">Ragg</tspan><tspan x="1134">Hcau</tspan><tspan x="1146.6">Cugu</tspan><tspan x="1159.3">Naau</tspan><tspan x="1171.9">Tacu</tspan><tspan x="1184.6">Sucu</tspan><tspan x="1197.2">Iauu</tspan><tspan x="1209.8">Iauu</tspan><tspan x="1222.5">Kaag</tspan><tspan x="1235.1">Egaa</tspan><tspan x="1247.8">Sucu</tspan><tspan x="1260.4">Cugu</tspan><tspan x="1273">Dgau</tspan><tspan x="1285.7">Kaag</tspan></text>
<text y="394.1"><tspan x="84.9">Egaa</tspan><tspan x="97.5">Tacu</tspan><tspan x="110.2">Wugg</tspan><tspan x="122.8">Yuau</tspan><tspan x="135.4">Sucu</tspan><tspan x="148.1">Sucu</tspan><tspan x="160.7">Dgau</tspan><tspan x="173.4">Vguu</tspan><tspan x="186">Vguu</tspan><tspan x="198.6">Cugu</tspan><tspan x="426.2">Dgau</tspan><tspan x="464.1">Naau</tspan><tspan x="476.7">Sucu</tspan><tspan x="514.6">Tacu</tspan><tspan x="539.9">Dgau</tspan><tspan x="552.6">Qcaa</tspan><tspan x="565.2">Tacu</tspan><tspan x="577.8">Tacu</tspan><tspan x="704.2">Naau</tspan><tspan x="830.6">Egaa</tspan><tspan x="893.8">Tacu</tspan><tspan x="906.5">Tacu</tspan><tspan x="1083.4">Cugu</tspan><tspan x="1096.1">Yuau</tspan><tspan x="1108.7">Maug</tspan><tspan x="1121.4">Naau</tspan><tspan x="1134">Hcau</tspan><tspan x="1146.6">Cugu</tspan><tspan x="1159.3">Naau</tspan><tspan x="1171.9">Tacu</tspan><tspan x="1184.6">Sucu</tspan><tspan x="1197.2">Vguu</tspan><tspan x="1209.8">Iauu</tspan><tspan x="1222.5">Tacu</tspan><tspan x="1235.1">Egaa</tspan><tspan x="1247.8">Sucu</tspan><tspan x="1260.4">Cugu</tspan><tspan x="1273">Dgau</tspan><tspan x="1285.7">Kaag</tspan></text>
<text y="405.7"><tspan x="84.9">Maug</tspan><tspan x="97.5">Tacu</tspan><tspan x="110.2">Wugg</tspan><tspan x="122.8">Yuau</tspan><tspan x="135.4">Dgau</tspan><tspan x="148.1">Qcaa</tspan><tspan x="160.7">Egaa</tspan><tspan x="173.4">Lcug</tspan><tspan x="186">Vguu</tspan><tspan x="198.6">Cugu</tspan><tspan x="426.2">Naau</tspan><tspan x="464.1">Naau</tspan><tspan x="476.7">Kaag</tspan><tspan x="565.2">Tacu</tspan><tspan x="577.8">Gggu</tspan><tspan x="704.2">Sucu</tspan><tspan x="830.6">Egaa</tspan><tspan x="868.6">Kaag</tspan><tspan x="881.2">Gggu</tspan><tspan x="893.8">Sucu</tspan><tspan x="906.5">Kaag</tspan><tspan x="919.1">Dgau</tspan><tspan x="1083.4">Cugu</tspan><tspan x="1096.1">Yuau</tspan><tspan x="1108.7">Maug</tspan><tspan x="1121.4">Iauu</tspan><tspan x="1134">Hcau</tspan><tspan x="1146.6">Cugu</tspan><tspan x="1159.3">Naau</tspan><tspan x="1171.9">Dgau</tspan><tspan x="1184.6">Sucu</tspan><tspan x="1197.2">Vguu</tspan><tspan x="1209.8">Iauu</tspan><tspan x="1222.5">Kaag</tspan><tspan x="1235.1">Egaa</tspan><tspan x="1247.8">Agcu</tspan><tspan x="1260.4">Cugu</tspan><tspan x="1273">Dgau</tspan><tspan x="1285.7">Kaag</tspan></text>
<text y="417.3"><tspan x="84.9">Vguu</tspan><tspan x="97.5">Vguu</tspan><tspan x="110.2">Wugg</tspan><tspan x="122.8">Naau</tspan><tspan x="135.4">Dgau</tspan><tspan x="148.1">Agcu</tspan><tspan x="160.7">Egaa</tspan><tspan x="173.4">Iauu</tspan><tspan x="186">Fuuu</tspan><tspan x="198.6">Cugu</tspan><tspan x="350.3">Kaag</tspan><tspan x="363">Ragg</tspan><tspan x="375.6">Sucu</tspan><tspan x="388.2">Tacu</tspan><tspan x="400.9">Sucu</tspan><tspan x="413.5">Hcau</tspan><tspan x="426.2">Naau</tspan><tspan x="881.2">Gggu</tspan><tspan x="893.8">Tacu</tspan><tspan x="906.5">Kaag</tspan><tspan x="919.1">Egaa</tspan><tspan x="1083.4">Cugu</tspan><tspan x="1096.1">Yuau</tspan><tspan x="1108.7">Maug</tspan><tspan x="1121.4">Iauu</tspan><tspan x="1134">Hcau</tspan><tspan x="1146.6">Cugu</tspan><tspan x="1159.3">Naau</tspan><tspan x="1171.9">Dgau</tspan><tspan x="1184.6">Sucu</tspan><tspan x="1197.2">Vguu</tspan><tspan x="1209.8">Iauu</tspan><tspan x="1222.5">Kaag</tspan><tspan x="1235.1">Egaa</tspan><tspan x="1247.8">Agcu</tspan><tspan x="1260.4">Cugu</tspan><tspan x="1273">Dgau</tspan><tspan x="1285.7">Kaag</tspan></text>
<text y="428.9"><tspan x="34.3">Yuau</tspan><tspan x="47">Vguu</tspan><tspan x="59.6">Egaa</tspan><tspan x="72.2">Dgau</tspan><tspan x="84.9">Vguu</tspan><tspan x="97.5">Vguu</tspan><tspan x="476.7">Naau</tspan><tspan x="565.2">Lcug</tspan><tspan x="577.8">Gggu</tspan><tspan x="704.2">Naau</tspan><tspan x="830.6">Egaa</tspan><tspan x="881.2">Naau</tspan><tspan x="893.8">Naau</tspan><tspan x="906.5">Tacu</tspan><tspan x="1083.4">Yuau</tspan><tspan x="1096.1">Ragg</tspan><tspan x="1108.7">Iauu</tspan><tspan x="1121.4">Iauu</tspan><tspan x="1134">Naau</tspan><tspan x="1146.6">Cugu</tspan><tspan x="1159.3">Naau</tspan><tspan x="1171.9">Tacu</tspan><tspan x="1184.6">Tacu</tspan><tspan x="1197.2">Agcu</tspan><tspan x="1209.8">Iauu</tspan><tspan x="1222.5">Tacu</tspan><tspan x="1235.1">Qcaa</tspan><tspan x="1247.8">Agcu</tspan><tspan x="1260.4">Cugu</tspan><tspan x="1273">Pccu</tspan><tspan x="1285.7">Kaag</tspan></text>
<text y="440.6"><tspan x="84.9">Egaa</tspan><tspan x="97.5">Tacu</tspan><tspan x="110.2">Wugg</tspan><tspan x="122.8">Yuau</tspan><tspan x="135.4">Sucu</tspan><tspan x="148.1">Agcu</tspan><tspan x="160.7">Dgau</tspan><tspan x="173.4">Lcug</tspan><tspan x="186">Vguu</tspan><tspan x="198.6">Cugu</tspan><tspan x="426.2">Egaa</tspan><tspan x="438.8">Qcaa</tspan><tspan x="451.4">Gggu</tspan><tspan x="464.1">Naau</tspan><tspan x="476.7">Sucu</tspan><tspan x="565.2">Tacu</tspan><tspan x="577.8">Gggu</tspan><tspan x="704.2">Naau</tspan><tspan x="830.6">Egaa</tspan><tspan x="893.8">Sucu</tspan><tspan x="906.5">Ragg</tspan><tspan x="1083.4">Cugu</tspan><tspan x="1096.1">Yuau</tspan><tspan x="1108.7">Maug</tspan><tspan x="1121.4">Naau</tspan><tspan x="1134">Hcau</tspan><tspan x="1146.6">Cugu</tspan><tspan x="1159.3">Naau</tspan><tspan x="1171.9">Tacu</tspan><tspan x="1184.6">Sucu</tspan><tspan x="1197.2">Vguu</tspan><tspan x="1209.8">Iauu</tspan><tspan x="1222.5">Qcaa</tspan><tspan x="1235.1">Egaa</tspan><tspan x="1247.8">Cugu</tspan><tspan x="1260.4">Cugu</tspan><tspan x="1273">Dgau</tspan><tspan x="1285.7">Kaag</tspan></text>
</g>
<g id="marks" font-family="Liberation Sans, Arial, sans-serif" font-weight="bold" font-size="14" fill="#a3262a" text-anchor="middle">
<text x="1082" y="457">*</text><text x="1094" y="457">*</text>
</g>
</svg>
